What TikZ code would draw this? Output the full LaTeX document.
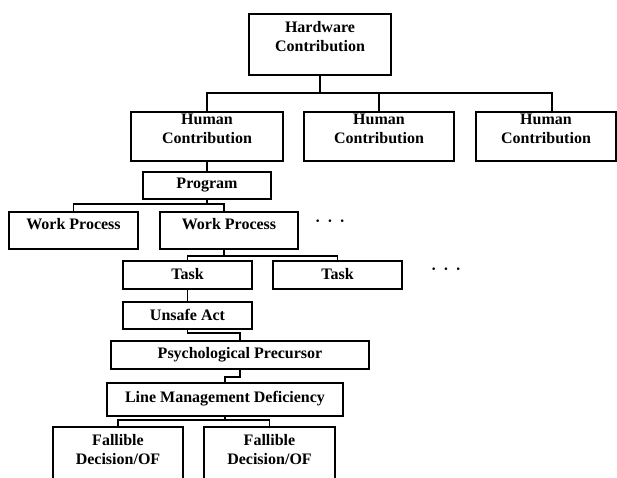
\documentclass[tikz,border=0pt]{standalone}
\usepackage{fontspec}
\setmainfont{Liberation Serif}
\begin{document}
\begin{tikzpicture}[x=1pt,y=-1pt,
  box/.style={draw, line width=1.7pt, inner sep=0pt},
  lbl/.style={font=\fontsize{16}{19}\selectfont\bfseries, align=center, inner sep=0pt},
  link/.style={line width=1.5pt}]
\useasboundingbox (0,0) rectangle (617,478);
\clip (0,0) rectangle (617,478);
% boxes
\node[box, minimum width=142pt, minimum height=61pt] (hw) at (320,44.5) {};
\node[box, minimum width=152pt, minimum height=49pt] (h1) at (207,136.5) {};
\node[box, minimum width=150pt, minimum height=49pt] (h2) at (379,136.5) {};
\node[box, minimum width=140pt, minimum height=49pt] (h3) at (546,136.5) {};
\node[box, minimum width=128pt, minimum height=27pt] (pg) at (207,185.5) {};
\node[box, minimum width=129pt, minimum height=37pt] (wp1) at (73.5,230.5) {};
\node[box, minimum width=138pt, minimum height=37pt] (wp2) at (229,230.5) {};
\node[box, minimum width=129pt, minimum height=28pt] (t1) at (187.5,275) {};
\node[box, minimum width=129pt, minimum height=28pt] (t2) at (337.5,275) {};
\node[box, minimum width=129pt, minimum height=27pt] (ua) at (187.5,315.5) {};
\node[box, minimum width=258pt, minimum height=28pt] (ps) at (240,355) {};
\node[box, minimum width=236pt, minimum height=33pt] (lm) at (225,399.5) {};
\node[box, minimum width=130pt, minimum height=63pt] (f1) at (118,458.5) {};
\node[box, minimum width=131pt, minimum height=63pt] (f2) at (269.5,458.5) {};
% labels
\node[lbl] (lhw) at (320,37) {Hardware\\Contribution};
\node[lbl] (lh1) at (207,129) {Human\\Contribution};
\node[lbl] (lh2) at (379,129) {Human\\Contribution};
\node[lbl] (lh3) at (546,129) {Human\\Contribution};
\node[lbl] (lpg) at (207,185.5) {Program};
\node[lbl] (lwp1) at (73.5,224) {Work Process};
\node[lbl] (lwp2) at (229,224) {Work Process};
\node[lbl] (lt1) at (187.5,274) {Task};
\node[lbl] (lt2) at (337.5,274) {Task};
\node[lbl] (lua) at (187.5,314.5) {Unsafe Act};
\node[lbl] (lps) at (240,355) {Psychological Precursor};
\node[lbl] (llm) at (225,398.5) {Line Management Deficiency};
\node[lbl] (lf1) at (118,450) {Fallible\\Decision/OF};
\node[lbl] (lf2) at (269.5,450) {Fallible\\Decision/OF};
\node[lbl] (d1) at (330,223) {·\hspace{7pt}·\hspace{7pt}·};
\node[lbl] (d2) at (446,271) {·\hspace{7pt}·\hspace{7pt}·};
% connectors
\coordinate (yb) at (0,93);
\draw[link] (hw.south) -- (hw.south |- yb);
\draw[link] (h1.north) -- (h1.north |- yb) -- ([xshift=6pt]h3.north |- yb) -- ([xshift=6pt]h3.north);
\draw[link] (h2.north) -- (h2.north |- yb);
\draw[link] (h1.south) -- (pg.north);
\coordinate (yw) at (0,204);
\draw[link] (pg.south) -- (pg.south |- yw);
\draw[link] (wp1.north) -- (wp1.north |- yw) -- ([xshift=-5pt]wp2.north |- yw) -- ([xshift=-5pt]wp2.north);
\coordinate (yt) at (0,256);
\draw[link] ([xshift=-5pt]wp2.south) -- ([xshift=-5pt]wp2.south |- yt);
\draw[link] (t1.north) -- (t1.north |- yt) -- (t2.north |- yt) -- (t2.north);
\draw[link] (t1.south) -- (ua.north);
\coordinate (yu) at (0,333);
\draw[link] (ua.south) -- (ua.south |- yu) -| (ps.north);
\coordinate (yp) at (0,377);
\draw[link] (ps.south) -- (ps.south |- yp) -| (lm.north);
\coordinate (yl) at (0,420);
\draw[link] (lm.south) -- (lm.south |- yl);
\draw[link] (f1.north) -- (f1.north |- yl) -- (f2.north |- yl) -- (f2.north);
\end{tikzpicture}
\end{document}
